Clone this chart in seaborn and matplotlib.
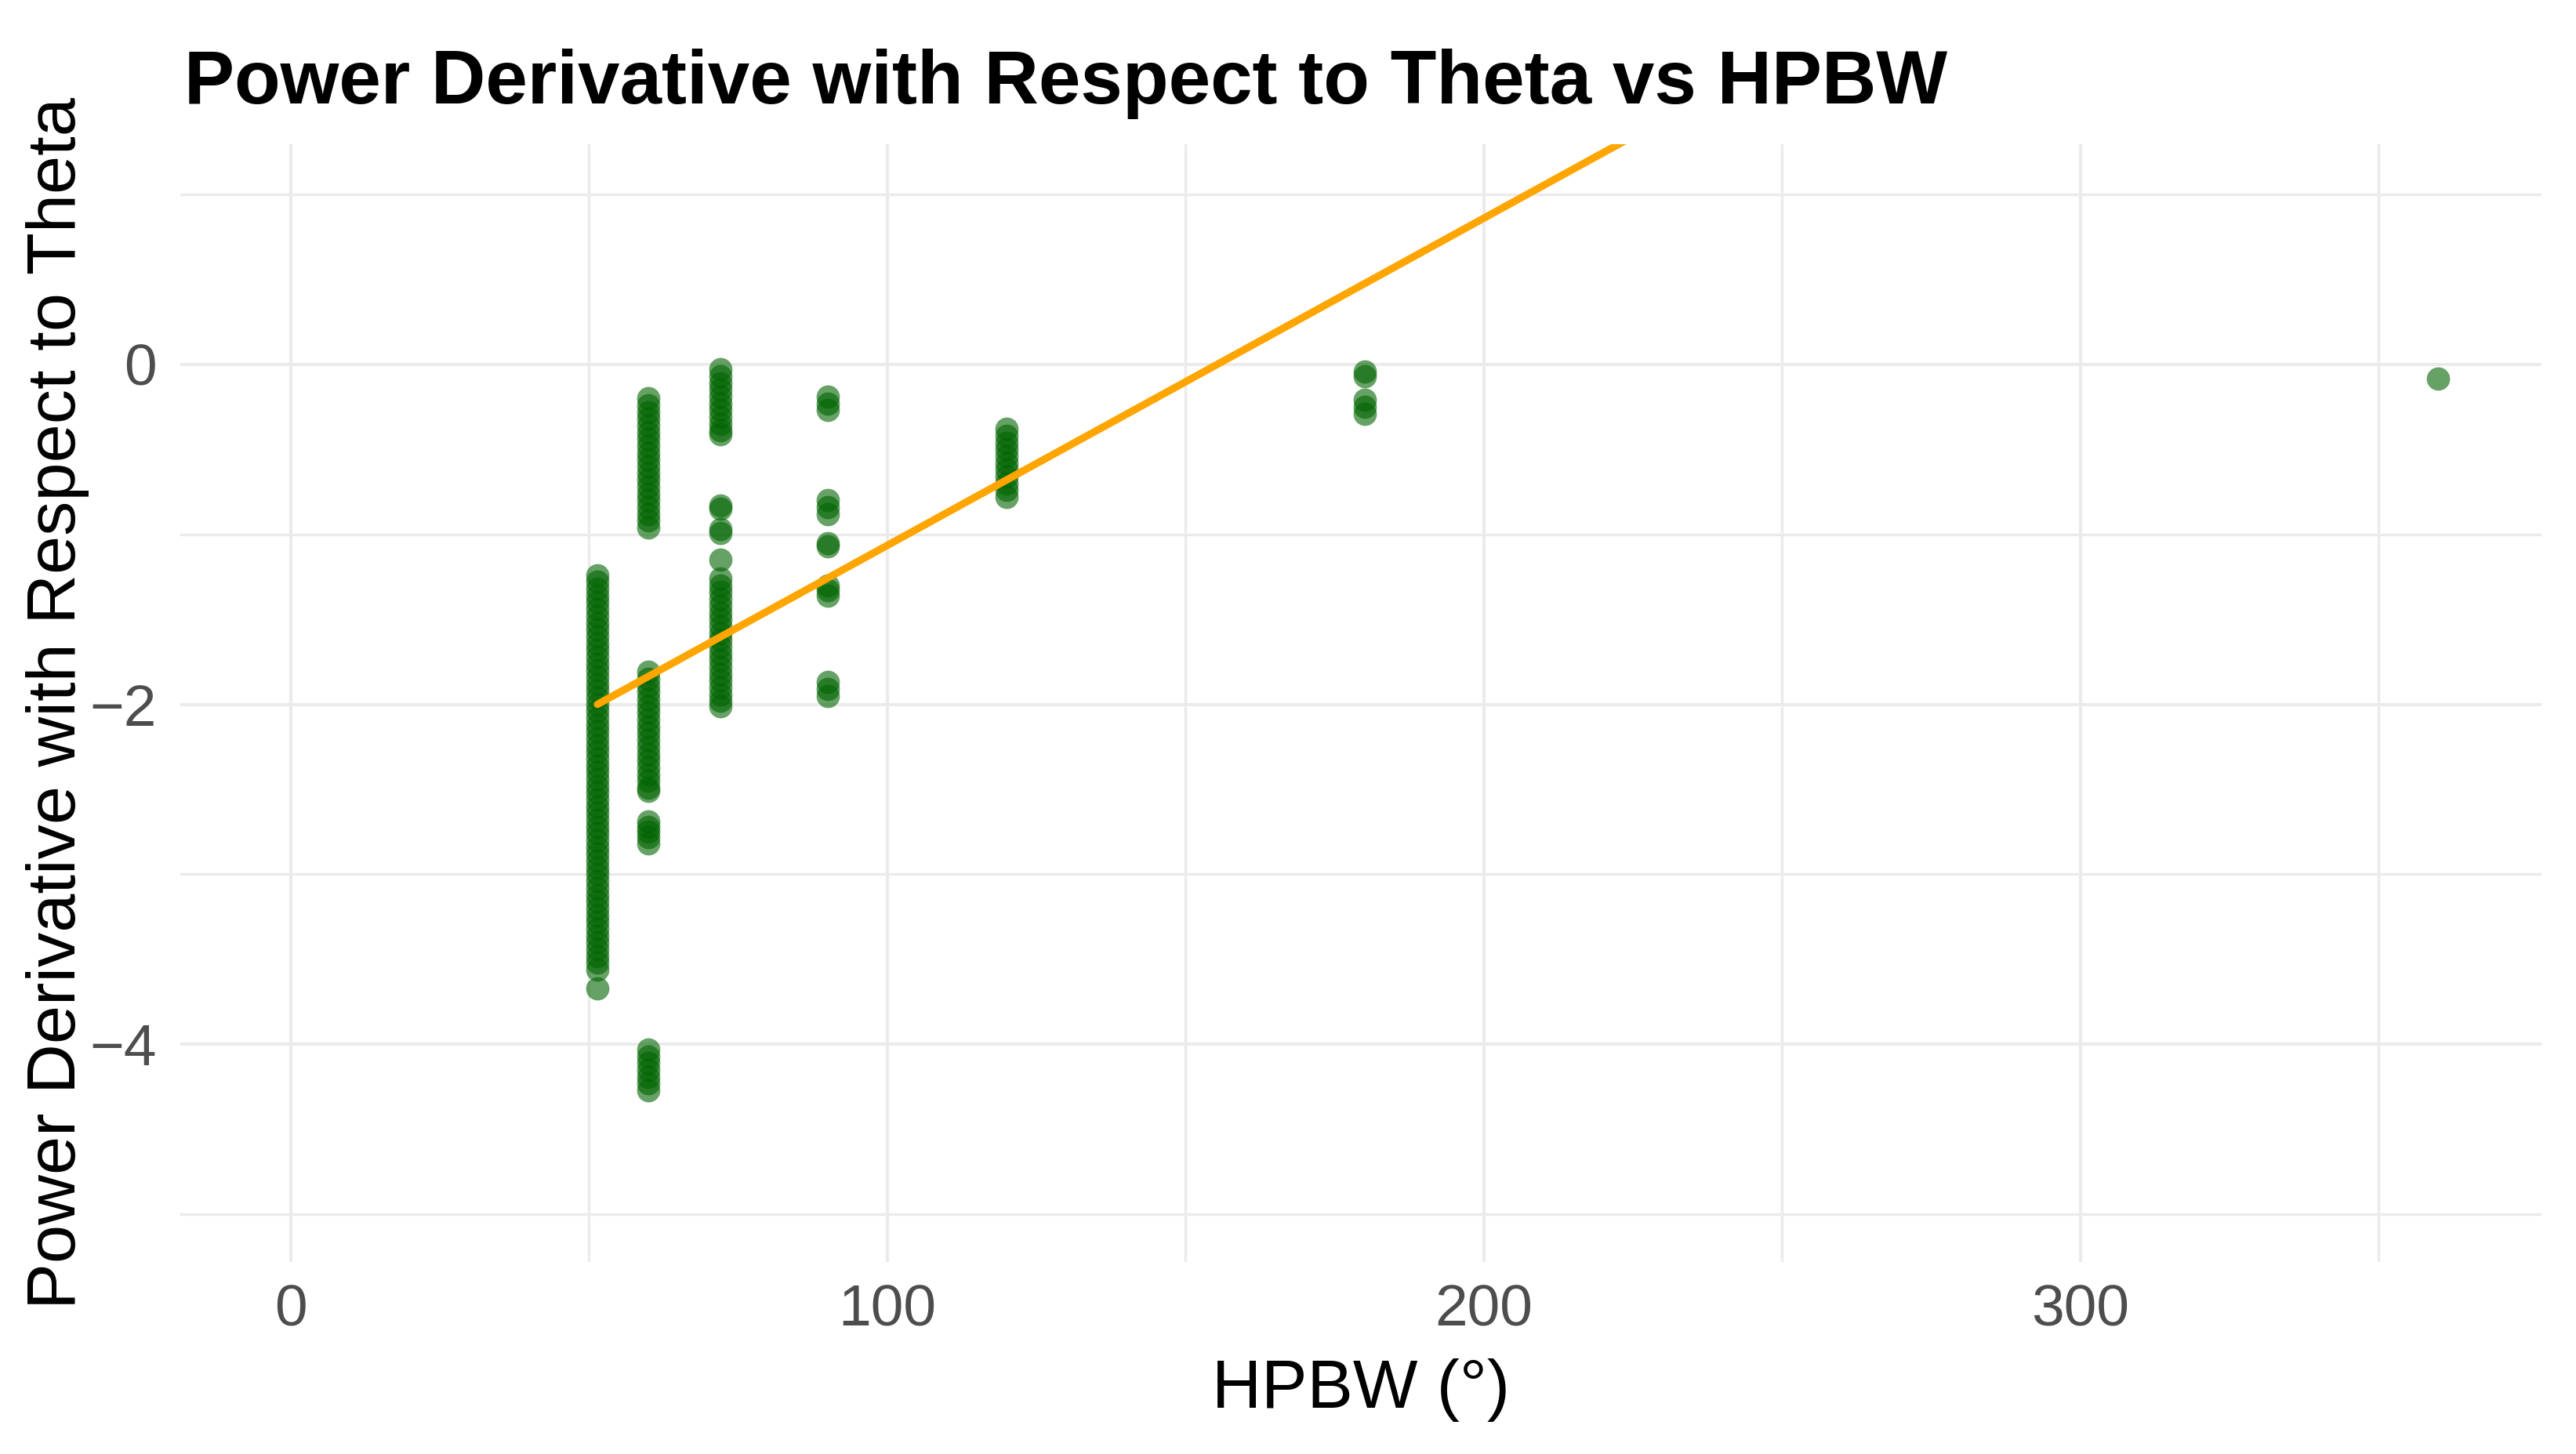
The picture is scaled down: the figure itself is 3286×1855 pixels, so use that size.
import numpy as np
import pandas as pd
import matplotlib
matplotlib.use("Agg")
import matplotlib.pyplot as plt
from matplotlib.ticker import MultipleLocator
import seaborn as sns

# ------------------------------------------------
# data (HPBW = 360/N degrees)
# ------------------------------------------------
HPBW_VALUES = [51.43, 60, 72, 90, 120, 180, 360]

dp_51 = [-1.24, -1.28, -1.32, -1.36, -1.40, -1.44, -1.48, -1.52, -1.56, -1.60,
         -1.64, -1.68, -1.72, -1.76, -1.80, -1.84, -1.88, -1.92, -1.96, -2.00,
         -2.04, -2.08, -2.12, -2.16, -2.20, -2.24, -2.28, -2.32, -2.36, -2.40,
         -2.44, -2.48, -2.52, -2.56, -2.60, -2.64, -2.68, -2.72, -2.76, -2.80,
         -2.84, -2.88, -2.92, -2.96, -3.00, -3.04, -3.08, -3.12, -3.16, -3.20,
         -3.24, -3.28, -3.32, -3.36, -3.40, -3.44, -3.48, -3.52, -3.56, -3.67]
dp_60 = [-0.20, -0.24, -0.28, -0.32, -0.36, -0.40, -0.44, -0.48, -0.52, -0.56,
         -0.60, -0.64, -0.68, -0.72, -0.76, -0.80, -0.84, -0.88, -0.92, -0.96,
         -1.81, -1.85, -1.89, -1.93, -1.97, -2.01, -2.05, -2.09, -2.13, -2.17,
         -2.21, -2.25, -2.29, -2.33, -2.37, -2.41, -2.45, -2.49, -2.51,
         -2.69, -2.72, -2.75, -2.78, -2.82,
         -4.03, -4.07, -4.11, -4.15, -4.19, -4.23, -4.27]
dp_72 = [-0.03, -0.07, -0.11, -0.15, -0.19, -0.23, -0.27, -0.31, -0.35, -0.39, -0.41,
         -0.83, -0.85, -0.97, -0.99, -1.15,
         -1.26, -1.30, -1.34, -1.38, -1.42, -1.46, -1.50, -1.54, -1.58, -1.62,
         -1.66, -1.70, -1.74, -1.78, -1.82, -1.86, -1.90, -1.94, -1.98, -2.01]
dp_90 = [-0.19, -0.23, -0.27, -0.80, -0.84, -0.88, -1.05, -1.07,
         -1.30, -1.33, -1.36, -1.87, -1.91, -1.95]
dp_120 = [-0.38, -0.42, -0.46, -0.50, -0.54, -0.58, -0.62, -0.66, -0.70, -0.74, -0.78]
dp_180 = [-0.04, -0.07, -0.21, -0.25, -0.29]
dp_360 = [-0.085]

# linear fit (geom_smooth lm), end points
fit_x = [51.43, 360]
fit_y = [-2.00, 3.94]

TITLE = "Power Derivative with Respect to Theta vs HPBW"
XLABEL = "HPBW (°)"
YLABEL = "Power Derivative with Respect to Theta"

# ------------------------------------------------
# dataframe
# ------------------------------------------------
columns = [dp_51, dp_60, dp_72, dp_90, dp_120, dp_180, dp_360]
rows = []
for hp, vals in zip(HPBW_VALUES, columns):
    for v in vals:
        rows.append({"HPBW": hp, "dP_dtheta": v})
df = pd.DataFrame(rows)

# ------------------------------------------------
# plot
# ------------------------------------------------
sns.set_theme(style="white")
plt.rcParams['font.family'] = ['Liberation Sans', 'DejaVu Sans']

fig = plt.figure(figsize=(16.43, 9.275), dpi=200)
ax = fig.add_axes([0.0700, 0.1321, 0.9166, 0.7687])

sns.scatterplot(data=df, x="HPBW", y="dP_dtheta", color="#006400", alpha=0.6,
                s=115, linewidth=0, ax=ax, zorder=3)
sns.lineplot(x=fit_x, y=fit_y, color="orange", linewidth=3.4, ax=ax, zorder=4)

ax.set_xlim(-18.5, 377.3)
ax.set_ylim(-5.28, 1.295)

ax.xaxis.set_major_locator(MultipleLocator(100))
ax.xaxis.set_minor_locator(MultipleLocator(50))
ax.yaxis.set_major_locator(MultipleLocator(2))
ax.yaxis.set_minor_locator(MultipleLocator(1))
ax.set_axisbelow(True)
ax.grid(which="major", color="#EBEBEB", linewidth=1.5)
ax.grid(which="minor", color="#EBEBEB", linewidth=1.2)
for s in ax.spines.values():
    s.set_visible(False)

ax.tick_params(axis="both", which="both", length=0, labelsize=27, labelcolor="#4D4D4D")
ax.tick_params(axis="x", pad=10)
ax.tick_params(axis="y", pad=11)

ax.set_xlabel(XLABEL, fontsize=31.5, color="black")
ax.set_ylabel(YLABEL, fontsize=31.8, color="black")
ax.xaxis.set_label_coords(0.5, -0.086)
ax.yaxis.set_label_coords(-0.0385, 0.5)

fig.text(235 / 3286, 1 - 132 / 1855, TITLE, fontsize=34.6, fontweight="bold",
         ha="left", va="baseline", color="black")

fig.savefig("out.png", dpi=200)
